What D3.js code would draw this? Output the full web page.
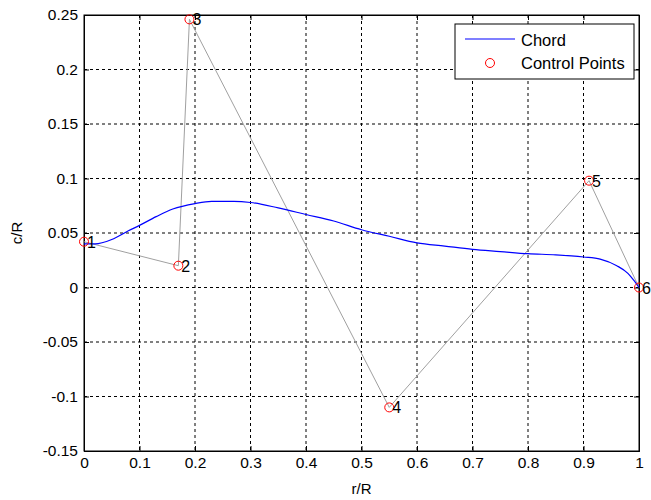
<!DOCTYPE html>
<html>
<head>
<meta charset="utf-8">
<script src="https://cdn.jsdelivr.net/npm/d3@7"></script>
<style>
  body { margin: 0; background: #fff; }
  text { font-family: "Liberation Sans", Arial, sans-serif; }
</style>
</head>
<body>
<div id="chart"></div>
<script>
// chord distribution (r/R, c/R)
var chordR = [0, 0.02, 0.05, 0.08, 0.1, 0.13, 0.16, 0.2, 0.23, 0.27, 0.3, 0.35, 0.4, 0.45, 0.5, 0.55, 0.6, 0.65, 0.7, 0.75, 0.8, 0.85, 0.9, 0.93, 0.96, 0.98, 0.99, 1.0];
var chordC = [0.04, 0.04, 0.044, 0.052, 0.057, 0.065, 0.072, 0.077, 0.079, 0.079, 0.078, 0.073, 0.067, 0.061, 0.053, 0.047, 0.041, 0.038, 0.035, 0.033, 0.031, 0.03, 0.028, 0.026, 0.02, 0.013, 0.007, 0.0];

// control points
var ctrlR = [0, 0.17, 0.19, 0.55, 0.91, 1.0];
var ctrlC = [0.042, 0.02, 0.246, -0.11, 0.098, 0.0];
var ctrlLabels = ["1", "2", "3", "4", "5", "6"];

var xTicks = [0, 0.1, 0.2, 0.3, 0.4, 0.5, 0.6, 0.7, 0.8, 0.9, 1];
var yTicks = [-0.15, -0.1, -0.05, 0, 0.05, 0.1, 0.15, 0.2, 0.25];

var width = 651, height = 500;
var margin = {top: 15, right: 12, bottom: 49, left: 84};
var w = width - margin.left - margin.right;
var h = height - margin.top - margin.bottom;

var svg = d3.select("#chart").append("svg")
  .attr("width", width)
  .attr("height", height);

var g = svg.append("g")
  .attr("transform", "translate(" + margin.left + "," + margin.top + ")");

var x = d3.scaleLinear().domain([0, 1]).range([0, w]);
var y = d3.scaleLinear().domain([-0.15, 0.25]).range([h, 0]);

var fmt = function(d) { return String(+d.toFixed(2)); };

// grid
g.append("g").selectAll("line").data(xTicks.slice(1, -1)).enter().append("line")
  .attr("x1", d => x(d)).attr("x2", d => x(d))
  .attr("y1", 0).attr("y2", h)
  .attr("stroke", "#000").attr("stroke-dasharray", "3,3");
g.append("g").selectAll("line").data(yTicks.slice(1, -1)).enter().append("line")
  .attr("y1", d => y(d)).attr("y2", d => y(d))
  .attr("x1", 0).attr("x2", w)
  .attr("stroke", "#000").attr("stroke-dasharray", "3,3");

// axes (ticks inside, box)
var xAxis = d3.axisBottom(x).tickValues(xTicks).tickSize(-5).tickPadding(6).tickFormat(fmt);
var yAxis = d3.axisLeft(y).tickValues(yTicks).tickSize(-5).tickPadding(6).tickFormat(fmt);

g.append("g").attr("transform", "translate(0," + h + ")").call(xAxis);
g.append("g").call(yAxis);
g.append("g").call(d3.axisTop(x).tickValues(xTicks).tickSize(-5).tickFormat(""));
g.append("g").attr("transform", "translate(" + w + ",0)")
  .call(d3.axisRight(y).tickValues(yTicks).tickSize(-5).tickFormat(""));

g.selectAll(".domain").attr("stroke", "#000");
g.selectAll(".tick text").style("font-size", "15.5px").attr("fill", "#000");

g.append("rect").attr("width", w).attr("height", h)
  .attr("fill", "none").attr("stroke", "#000");

// control polygon
var ctrl = ctrlR.map((r, i) => ({r: r, c: ctrlC[i], label: ctrlLabels[i]}));
g.append("path").datum(ctrl)
  .attr("fill", "none").attr("stroke", "#a0a0a0").attr("stroke-width", 1)
  .attr("d", d3.line().x(d => x(d.r)).y(d => y(d.c)));

// chord curve
var chord = chordR.map((r, i) => ({r: r, c: chordC[i]}));
g.append("path").datum(chord)
  .attr("fill", "none").attr("stroke", "#0000ff").attr("stroke-width", 1.2)
  .attr("d", d3.line().curve(d3.curveMonotoneX).x(d => x(d.r)).y(d => y(d.c)));

// control points
g.selectAll(".cp").data(ctrl).enter().append("circle")
  .attr("class", "cp")
  .attr("cx", d => x(d.r)).attr("cy", d => y(d.c)).attr("r", 4.5)
  .attr("fill", "none").attr("stroke", "#ff0000").attr("stroke-width", 1);
g.selectAll(".cpl").data(ctrl).enter().append("text")
  .attr("class", "cpl")
  .attr("x", d => x(d.r) + 3).attr("y", d => y(d.c) + 6)
  .style("font-size", "16px")
  .text(d => d.label);

// axis labels
svg.append("text")
  .attr("x", margin.left + w / 2).attr("y", 494)
  .attr("text-anchor", "middle").style("font-size", "15px")
  .text("r/R");
svg.append("text")
  .attr("transform", "translate(22," + (margin.top + h / 2) + ") rotate(-90)")
  .attr("text-anchor", "middle").style("font-size", "15px")
  .text("c/R");

// legend
var lg = svg.append("g").attr("transform", "translate(455,24)");
lg.append("rect").attr("width", 179).attr("height", 55)
  .attr("fill", "#fff").attr("stroke", "#000");
lg.append("line").attr("x1", 10).attr("x2", 60).attr("y1", 15).attr("y2", 15)
  .attr("stroke", "#0000ff").attr("stroke-width", 1.2);
lg.append("text").attr("x", 66).attr("y", 22).style("font-size", "16.5px").text("Chord");
lg.append("circle").attr("cx", 35).attr("cy", 39).attr("r", 4.5)
  .attr("fill", "none").attr("stroke", "#ff0000");
lg.append("text").attr("x", 66).attr("y", 45).style("font-size", "16.5px").text("Control Points");
</script>
</body>
</html>
